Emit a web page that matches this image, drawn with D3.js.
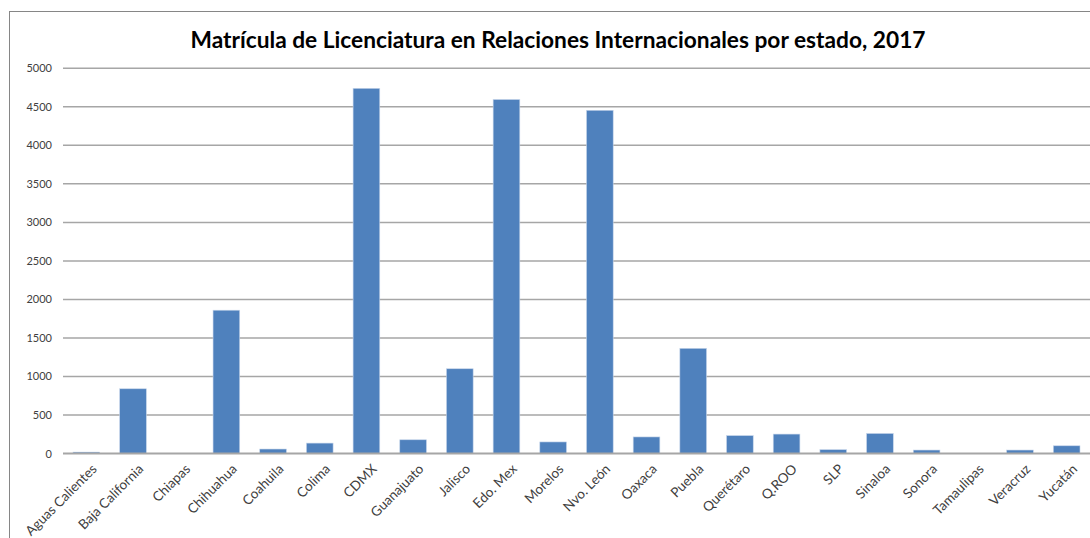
<!DOCTYPE html>
<html>
<head>
<meta charset="utf-8">
<script src="https://cdn.jsdelivr.net/npm/d3@7"></script>
<style>
  html, body { margin: 0; padding: 0; background: #fff; }
  svg { display: block; }
</style>
</head>
<body>
<svg id="chart" width="1090" height="538"></svg>
<script>
const categories = ["Aguas Calientes", "Baja California", "Chiapas", "Chihuahua", "Coahuila", "Colima", "CDMX", "Guanajuato", "Jalisco", "Edo. Mex", "Morelos", "Nvo. León", "Oaxaca", "Puebla", "Querétaro", "Q.ROO", "SLP", "Sinaloa", "Sonora", "Tamaulipas", "Veracruz", "Yucatán"];
const values = [18, 840, 0, 1860, 58, 135, 4740, 178, 1100, 4595, 150, 4455, 215, 1365, 232, 252, 50, 260, 45, 0, 45, 100];
const yTicks = [0, 500, 1000, 1500, 2000, 2500, 3000, 3500, 4000, 4500, 5000];
const titleText = "Matrícula de Licenciatura en Relaciones Internacionales por estado, 2017";

const svg = d3.select("#chart");
const W = 1090, H = 538;
const plot = { left: 63, right: 1090, top: 68.3, bottom: 453.5 };

// chart area border
svg.append("rect")
  .attr("x", 9.5).attr("y", 11.5)
  .attr("width", W + 10).attr("height", H + 10)
  .attr("fill", "#fff").attr("stroke", "#868686").attr("stroke-width", 1);

// title
svg.append("text")
  .attr("x", 558).attr("y", 48)
  .attr("text-anchor", "middle")
  .attr("font-family", "Lato, 'Open Sans', sans-serif")
  .attr("font-weight", "bold")
  .attr("font-size", 23)
  .attr("fill", "#000")
  .attr("textLength", 735)
  .attr("lengthAdjust", "spacingAndGlyphs")
  .text(titleText);

const x = d3.scaleBand()
  .domain(categories)
  .range([plot.left, plot.right])
  .paddingInner(0.4286)
  .paddingOuter(0.2143);

const y = d3.scaleLinear()
  .domain([0, 5000])
  .range([plot.bottom, plot.top]);

// gridlines
svg.append("g")
  .selectAll("line")
  .data(yTicks.filter(d => d > 0))
  .join("line")
  .attr("x1", plot.left).attr("x2", plot.right)
  .attr("y1", d => y(d)).attr("y2", d => y(d))
  .attr("stroke", "#a6a6a6").attr("stroke-width", 1.5);

// y axis labels
const yAxis = d3.axisLeft(y).tickValues(yTicks).tickFormat(d3.format("d")).tickSize(0).tickPadding(11);
const gy = svg.append("g")
  .attr("transform", `translate(${plot.left},0)`)
  .call(yAxis);
gy.select(".domain").remove();
gy.selectAll("text")
  .attr("font-family", "Lato, 'Open Sans', sans-serif")
  .attr("font-size", 11)
  .attr("fill", "#404040");

// bars
svg.append("g")
  .selectAll("rect")
  .data(categories.map((c, i) => ({ c, v: values[i] })))
  .join("rect")
  .attr("x", d => x(d.c))
  .attr("width", x.bandwidth())
  .attr("y", d => y(d.v))
  .attr("height", d => y(0) - y(d.v))
  .attr("fill", "#4f81bd")
  .attr("stroke", "#c6d5ea")
  .attr("stroke-width", 0.6);

// baseline
svg.append("line")
  .attr("x1", plot.left).attr("x2", plot.right)
  .attr("y1", y(0)).attr("y2", y(0))
  .attr("stroke", "#a6a6a6").attr("stroke-width", 2);

// x axis labels
const xAxis = d3.axisBottom(x).tickSize(0).tickPadding(0);
const gx = svg.append("g")
  .attr("transform", `translate(0,${plot.bottom})`)
  .call(xAxis);
gx.select(".domain").remove();
gx.selectAll("text")
  .attr("font-family", "Lato, 'Open Sans', sans-serif")
  .attr("font-size", 13.5)
  .attr("fill", "#404040")
  .attr("text-anchor", "end")
  .attr("y", 0)
  .attr("dy", "0.35em")
  .attr("transform", "translate(8,13) rotate(-45)");
</script>
</body>
</html>
